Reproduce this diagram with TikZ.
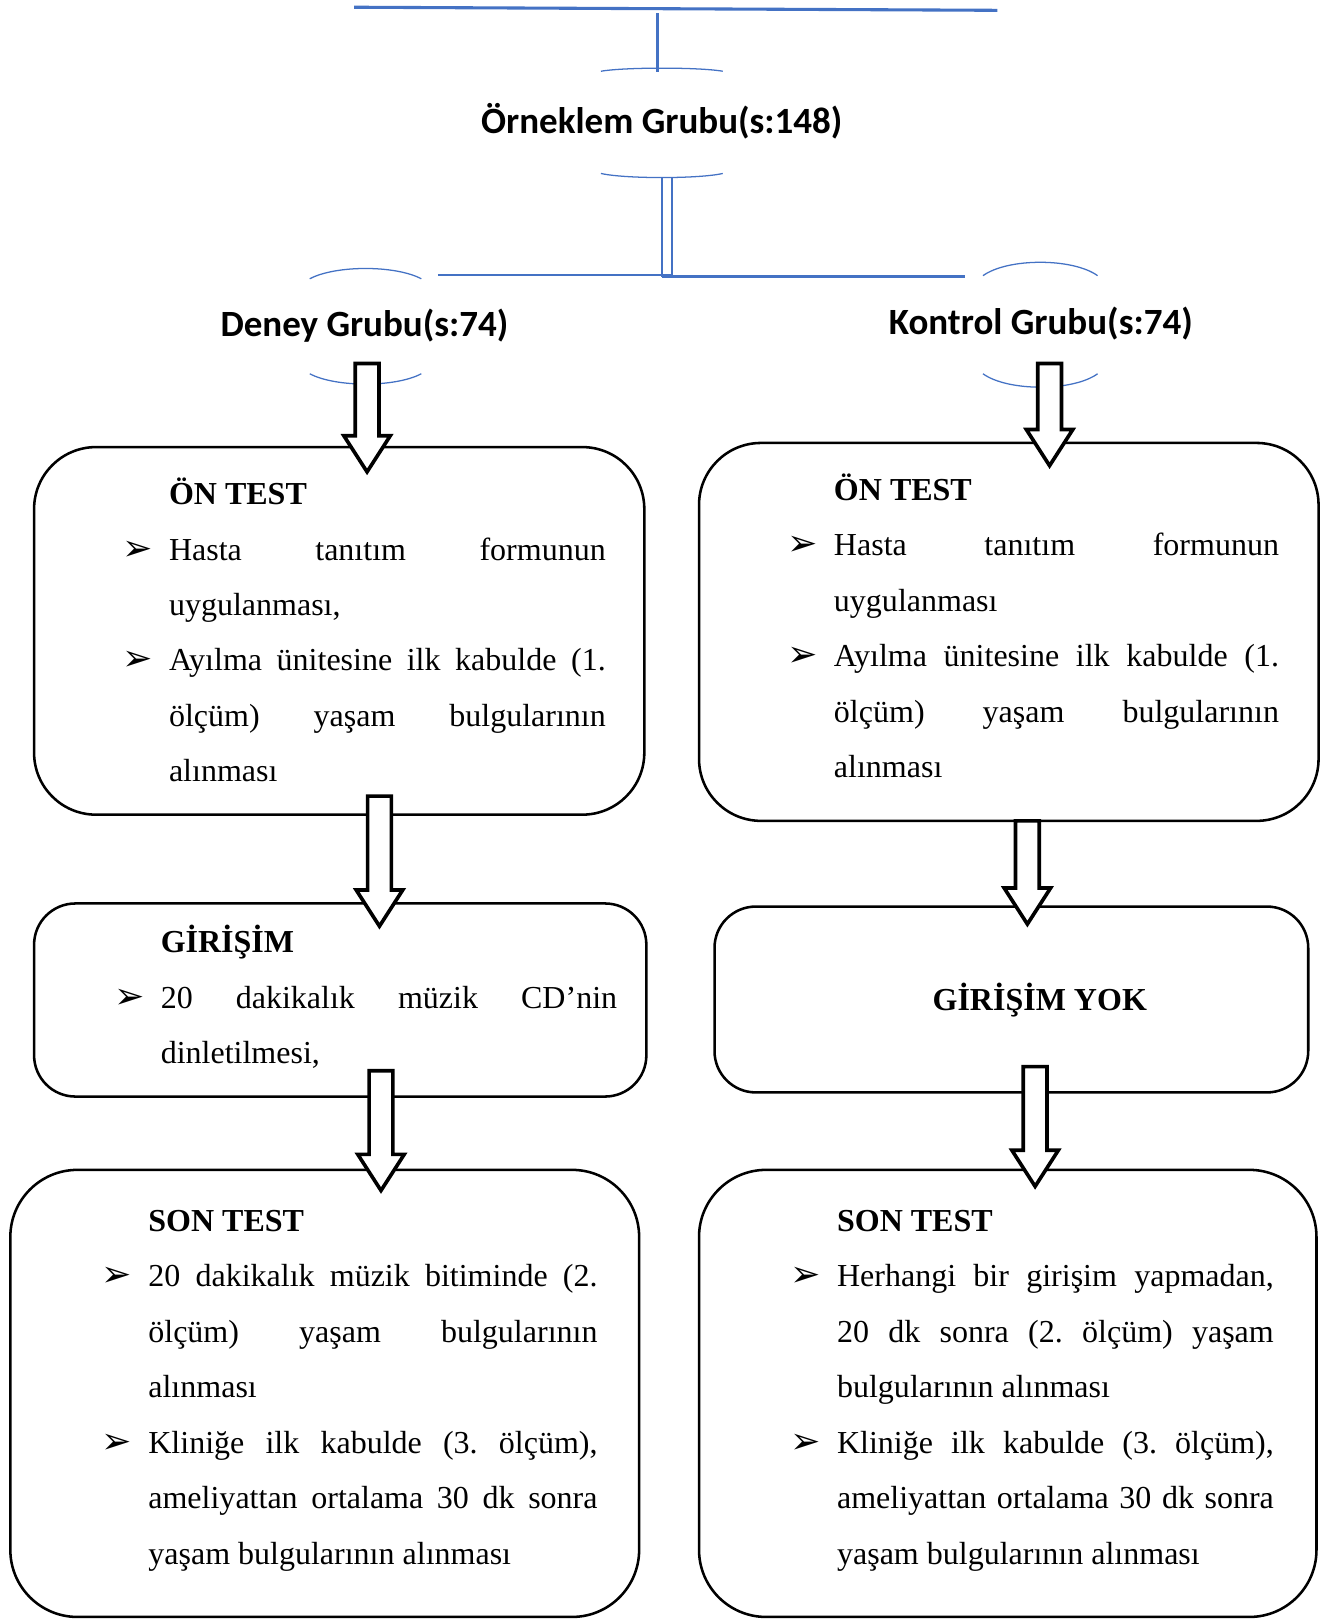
\documentclass[tikz,border=0pt]{standalone}
\usepackage{fontspec}
\setmainfont{Liberation Serif}
\newfontfamily\grpfont{Carlito}
\newfontfamily\symfont{DejaVu Sans}
\usetikzlibrary{calc}
\definecolor{wordblue}{RGB}{68,114,196}
\newcommand{\bul}{\llap{\makebox[0.45cm][l]{\symfont\fontsize{10pt}{10pt}\selectfont ➢}}}
\frenchspacing

\begin{document}
\begin{tikzpicture}[
  grp/.style={font=\grpfont\bfseries\fontsize{10.2pt}{12pt}\selectfont, inner sep=0},
  rbox/.style={draw, line width=0.7pt, fill=white},
  txt/.style={align=left, inner sep=0, anchor=north west,
              font=\fontsize{8.82pt}{15.28pt}\selectfont},
  bline/.style={wordblue, line width=0.85pt},
  arcline/.style={wordblue, line width=0.35pt},
  barrow/.style={draw=black, fill=white, line width=1pt, line join=miter},
  blockarrow/.style={barrow, to path={
    let \p1=(\tikztostart), \p2=(\tikztotarget) in
    (\x1-0.115cm,\y1) -- (\x1+0.115cm,\y1) -- (\x1+0.115cm,\y2+0.35cm)
    -- (\x1+0.225cm,\y2+0.35cm) -- (\x1,\y2) -- (\x1-0.225cm,\y2+0.35cm)
    -- (\x1-0.115cm,\y2+0.35cm) -- cycle}}]
  \useasboundingbox (0,0) rectangle (12.90,-15.68);

  % top: sample group
  \draw[bline] (3.43,-0.07) -- (9.66,-0.10);
  \draw[bline, line width=0.7pt] (6.37,-0.13) -- (6.37,-0.70);
  \draw[arcline] (5.82,-0.69) .. controls (6.05,-0.65) and (6.77,-0.65) .. (7.00,-0.69);
  \node[grp] (orn) at (6.41,-1.17) {Örneklem Grubu(s:148)};
  \draw[arcline] (5.82,-1.68) .. controls (6.05,-1.733) and (6.77,-1.733) .. (7.00,-1.68);

  % split to the two groups
  \draw[wordblue, line width=0.6pt] (6.41,-1.72) -- (6.41,-2.68);
  \draw[wordblue, line width=0.4pt] (6.51,-1.72) -- (6.51,-2.68);
  \draw[wordblue, line width=0.45pt] (4.24,-2.665) -- (6.51,-2.665);
  \draw[bline, line width=0.8pt] (6.41,-2.68) -- (9.35,-2.68);

  % group labels
  \draw[arcline] (3.00,-2.70) .. controls (3.25,-2.567) and (3.83,-2.567) .. (4.08,-2.70);
  \node[grp] (deney) at (3.53,-3.15) {Deney Grubu(s:74)};
  \draw[arcline] (3.00,-3.62) .. controls (3.25,-3.753) and (3.83,-3.753) .. (4.08,-3.62);

  \draw[arcline] (9.52,-2.67) .. controls (9.76,-2.497) and (10.39,-2.497) .. (10.63,-2.67);
  \node[grp] (kontrol) at (10.08,-3.13) {Kontrol Grubu(s:74)};
  \draw[arcline] (9.52,-3.62) .. controls (9.76,-3.793) and (10.39,-3.793) .. (10.63,-3.62);

  % LEFT column: experiment group
  \node[rbox, minimum width=5.91cm, minimum height=3.56cm, rounded corners=0.6cm] (lpre) at (3.285,-6.11) {};
  \node[txt] (lpretxt) at (1.63,-4.504) {\strut\textbf{ÖN TEST}\\
    \bul\makebox[4.23cm][s]{Hasta tanıtım formunun}\\
    uygulanması,\\
    \bul\makebox[4.23cm][s]{Ayılma ünitesine ilk kabulde (1.}\\
    \makebox[4.23cm][s]{ölçüm) yaşam bulgularının}\\
    alınması};

  \node[rbox, minimum width=5.93cm, minimum height=1.87cm, rounded corners=0.4cm] (lint) at (3.295,-9.685) {};
  \node[txt] (linttxt) at (1.55,-8.844) {\strut\textbf{GİRİŞİM}\\
    \bul\makebox[4.42cm][s]{20 dakikalık müzik CD’nin}\\
    dinletilmesi,};

  \node[rbox, minimum width=6.09cm, minimum height=4.33cm, rounded corners=0.65cm] (lpost) at (3.145,-13.495) {};
  \node[txt] (lposttxt) at (1.43,-11.544) {\strut\textbf{SON TEST}\\
    \bul\makebox[4.35cm][s]{20 dakikalık müzik bitiminde (2.}\\
    \makebox[4.35cm][s]{ölçüm) yaşam bulgularının}\\
    alınması\\
    \bul\makebox[4.35cm][s]{Kliniğe ilk kabulde (3. ölçüm),}\\
    \makebox[4.35cm][s]{ameliyattan ortalama 30 dk sonra}\\
    yaşam bulgularının alınması};

  % RIGHT column: control group
  \node[rbox, minimum width=6.00cm, minimum height=3.66cm, rounded corners=0.6cm] (rpre) at (9.77,-6.12) {};
  \node[txt] (rpretxt) at (8.07,-4.464) {\strut\textbf{ÖN TEST}\\
    \bul\makebox[4.31cm][s]{Hasta tanıtım formunun}\\
    uygulanması\\
    \bul\makebox[4.31cm][s]{Ayılma ünitesine ilk kabulde (1.}\\
    \makebox[4.31cm][s]{ölçüm) yaşam bulgularının}\\
    alınması};

  \node[rbox, minimum width=5.75cm, minimum height=1.80cm, rounded corners=0.4cm] (rint) at (9.795,-9.68) {};
  \node[font=\bfseries\fontsize{8.82pt}{10pt}\selectfont, inner sep=0] (yok) at (10.07,-9.69) {GİRİŞİM YOK};

  \node[rbox, minimum width=5.98cm, minimum height=4.33cm, rounded corners=0.65cm] (rpost) at (9.76,-13.495) {};
  \node[txt] (rposttxt) at (8.10,-11.544) {\strut\textbf{SON TEST}\\
    \bul\makebox[4.23cm][s]{Herhangi bir girişim yapmadan,}\\
    \makebox[4.23cm][s]{20 dk sonra (2. ölçüm) yaşam}\\
    bulgularının alınması\\
    \bul\makebox[4.23cm][s]{Kliniğe ilk kabulde (3. ölçüm),}\\
    \makebox[4.23cm][s]{ameliyattan ortalama 30 dk sonra}\\
    yaşam bulgularının alınması};

  % block arrows
  \coordinate (a1s) at (3.555,-3.52);  \coordinate (a1e) at (3.555,-4.57);
  \coordinate (a2s) at (3.675,-7.71);  \coordinate (a2e) at (3.675,-8.97);
  \coordinate (a3s) at (3.69,-10.37);  \coordinate (a3e) at (3.69,-11.53);
  \coordinate (b1s) at (10.165,-3.52); \coordinate (b1e) at (10.165,-4.51);
  \coordinate (b2s) at (9.95,-7.95);   \coordinate (b2e) at (9.95,-8.95);
  \coordinate (b3s) at (10.025,-10.33); \coordinate (b3e) at (10.025,-11.49);

  \draw[blockarrow] (a1s) to (a1e);
  \draw[blockarrow] (a2s) to (a2e);
  \draw[blockarrow] (a3s) to (a3e);
  \draw[blockarrow] (b1s) to (b1e);
  \draw[blockarrow] (b2s) to (b2e);
  \draw[blockarrow] (b3s) to (b3e);
\end{tikzpicture}
\end{document}
